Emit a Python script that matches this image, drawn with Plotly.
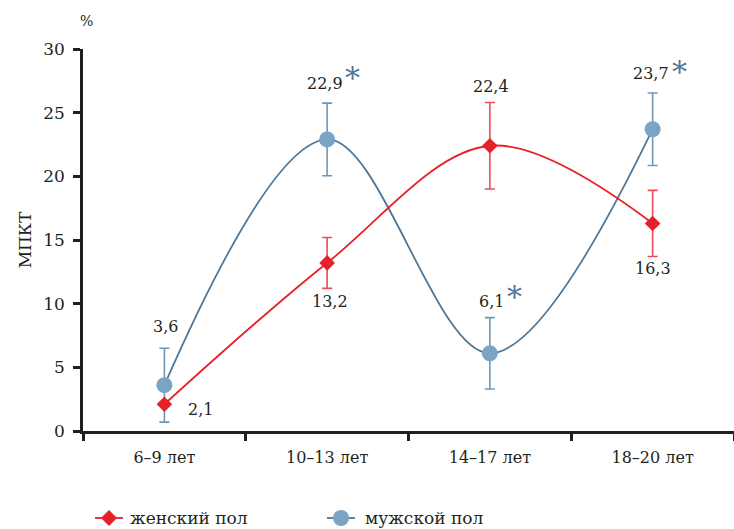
import plotly.graph_objects as go

# Age groups and bone mineral density deficit (%), by sex
age_groups = ["6–9 лет", "10–13 лет", "14–17 лет", "18–20 лет"]
female = [2.1, 13.2, 22.4, 16.3]
female_err = [0.0, 2.0, 3.4, 2.6]
male = [3.6, 22.9, 6.1, 23.7]
male_err = [2.9, 2.85, 2.8, 2.85]
male_significant = [False, True, True, True]
legend_names = ["женский пол", "мужской пол"]

RED = "#e8202a"
RED_ERR = "#ea4d5a"
BLUE_LINE = "#4f7797"
BLUE_MARK = "#7aa3c4"
BLUE_ERR = "#6f97b8"
TEXT = "#231f20"
SERIF = "DejaVu Serif, Liberation Serif, serif"

# plot area in pixels
W, H = 734, 529
ML, MR, MT, MB = 83, 0, 49, 98
PW, PH = W - ML - MR, H - MT - MB


def px_to_paper(px, py):
    return (px - ML) / PW, (H - MB - py) / PH


fig = go.Figure()

fig.add_trace(go.Scatter(
    x=age_groups, y=male, name=legend_names[1],
    mode="lines+markers",
    line=dict(color=BLUE_LINE, width=1.8, shape="spline", smoothing=1.0),
    marker=dict(symbol="circle", size=16, color=BLUE_MARK),
    error_y=dict(type="data", array=male_err, visible=True,
                 color=BLUE_ERR, thickness=1.6, width=5),
))

fig.add_trace(go.Scatter(
    x=age_groups, y=female, name=legend_names[0],
    mode="lines+markers",
    line=dict(color=RED, width=1.8, shape="spline", smoothing=1.0),
    marker=dict(symbol="diamond", size=12, color=RED),
    error_y=dict(type="data", array=female_err, visible=True,
                 color=RED_ERR, thickness=1.6, width=5),
))

# value labels with pixel offsets from their points
label_font = dict(family=SERIF, size=16, color=TEXT)
female_offsets = [(36, -5), (3, -39), (1, 59), (0, -45)]
male_offsets = [(1, 59), (-2, 56), (2, 52), (-2, 56)]
star_offsets = [None, (25, 62), (25, 57), (27, 58)]


def fmt(v):
    return f"{v:.1f}".replace(".", ",")


for cat, v, (dx, dy) in zip(age_groups, female, female_offsets):
    fig.add_annotation(x=cat, y=v, text=fmt(v), showarrow=False,
                       xshift=dx, yshift=dy, font=label_font)

for cat, v, (dx, dy), sig, so in zip(age_groups, male, male_offsets,
                                     male_significant, star_offsets):
    fig.add_annotation(x=cat, y=v, text=fmt(v), showarrow=False,
                       xshift=dx, yshift=dy, font=label_font)
    if sig:
        fig.add_annotation(x=cat, y=v, text="*", showarrow=False,
                           xshift=so[0], yshift=so[1],
                           font=dict(family=SERIF, size=30, color=BLUE_LINE))

px_, py_ = px_to_paper(86.5, 21)
fig.add_annotation(xref="paper", yref="paper", x=px_, y=py_, text="%",
                   showarrow=False, xanchor="center", yanchor="middle",
                   font=dict(family=SERIF, size=14, color=TEXT))

# legend drawn below the axis
legend_items = [
    dict(name=legend_names[0], color=RED, x0=95, x1=123, mx=109, y=518,
         tx=128, marker="diamond"),
    dict(name=legend_names[1], color=BLUE_LINE, x0=327, x1=355, mx=341, y=518,
         tx=363, marker="circle"),
]
for it in legend_items:
    ax0, ay = px_to_paper(it["x0"], it["y"])
    ax1, _ = px_to_paper(it["x1"], it["y"])
    amx, _ = px_to_paper(it["mx"], it["y"])
    fig.add_shape(type="line", xref="paper", yref="paper",
                  x0=ax0, x1=ax1, y0=ay, y1=ay,
                  line=dict(color=it["color"], width=1.8))
    if it["marker"] == "diamond":
        fig.add_shape(type="path", xref="paper", yref="paper",
                      xsizemode="pixel", ysizemode="pixel",
                      xanchor=amx, yanchor=ay,
                      path="M -8 0 L 0 8 L 8 0 L 0 -8 Z",
                      fillcolor=RED, line=dict(width=0))
    else:
        fig.add_shape(type="circle", xref="paper", yref="paper",
                      xsizemode="pixel", ysizemode="pixel",
                      xanchor=amx, yanchor=ay,
                      x0=-8, x1=8, y0=-8, y1=8,
                      fillcolor=BLUE_MARK, line=dict(width=0))
    atx, _ = px_to_paper(it["tx"], it["y"])
    fig.add_annotation(xref="paper", yref="paper", x=atx, y=ay,
                       text=it["name"], showarrow=False,
                       xanchor="left", yanchor="middle",
                       font=dict(family=SERIF, size=17, color=TEXT))

fig.update_layout(
    width=W, height=H,
    margin=dict(l=ML, r=MR, t=MT, b=MB),
    paper_bgcolor="white", plot_bgcolor="white",
    font=dict(family=SERIF, size=16, color=TEXT),
    showlegend=False,
    xaxis=dict(
        type="category", range=[-0.5, 3.5],
        showline=True, linecolor=TEXT, linewidth=2.5,
        ticks="outside", ticklen=7, tickwidth=2.5, tickcolor=TEXT,
        tickson="boundaries", showgrid=False, zeroline=False,
        ticklabelstandoff=10,
        tickfont=dict(family=SERIF, size=16, color=TEXT),
    ),
    yaxis=dict(
        range=[0, 30], tickvals=[0, 5, 10, 15, 20, 25, 30],
        showline=True, linecolor=TEXT, linewidth=2.5,
        ticks="outside", ticklen=7, tickwidth=2.5, tickcolor=TEXT,
        showgrid=False, zeroline=False,
        ticklabelstandoff=5,
        title=dict(text="МПКТ", standoff=8,
                   font=dict(family=SERIF, size=17, color=TEXT)),
        tickfont=dict(family=SERIF, size=17, color=TEXT),
    ),
)

fig.write_html("out.html")
